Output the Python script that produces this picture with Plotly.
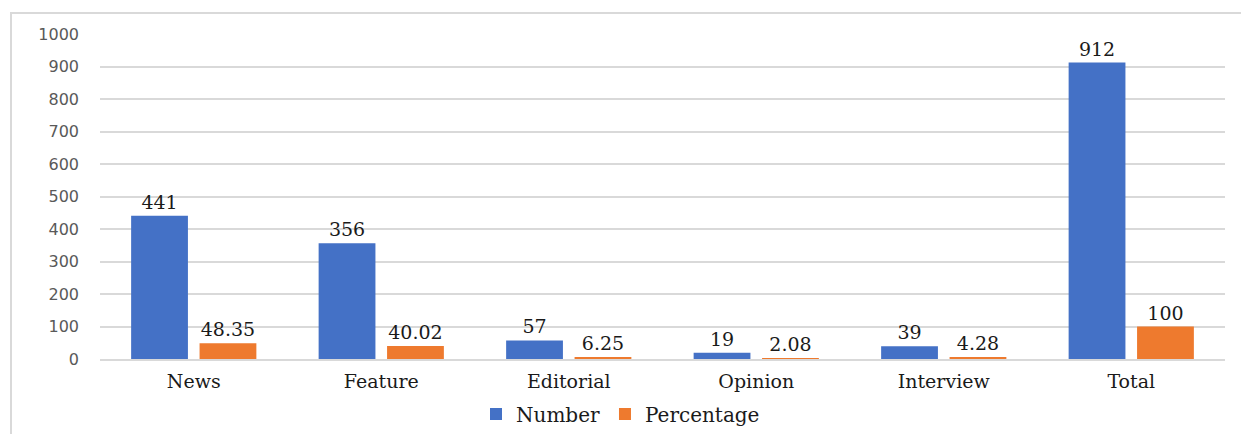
import plotly.graph_objects as go

categories = ["News", "Feature", "Editorial", "Opinion", "Interview", "Total"]
number = [441, 356, 57, 19, 39, 912]
percentage = [48.35, 40.02, 6.25, 2.08, 4.28, 100]
number_labels = ["441", "356", "57", "19", "39", "912"]
percentage_labels = ["48.35", "40.02", "6.25", "2.08", "4.28", "100"]
y_ticks = list(range(0, 1001, 100))

W, H = 1241, 434
L, R, T, B = 100, 16, 34, 75
plot_w = W - L - R
plot_h = H - T - B

serif = "DejaVu Serif, Liberation Serif, serif"
sans = "DejaVu Sans, Open Sans, sans-serif"

fig = go.Figure()
fig.add_trace(go.Bar(
    name="Number", x=categories, y=number,
    text=number_labels, textposition="outside",
    textfont=dict(family=serif, size=19, color="#1a1a1a"),
    marker=dict(color="#4471C6", line=dict(width=0)),
    cliponaxis=False,
))
fig.add_trace(go.Bar(
    name="Percentage", x=categories, y=percentage,
    text=percentage_labels, textposition="outside",
    textfont=dict(family=serif, size=19, color="#1a1a1a"),
    marker=dict(color="#EE7A2E", line=dict(width=0)),
    cliponaxis=False,
))


def px_x(px):
    return (px - L) / plot_w


def px_y(py):
    return (H - B - py) / plot_h


fig.update_layout(
    width=W, height=H,
    margin=dict(l=L, r=R, t=T, b=B, autoexpand=False),
    paper_bgcolor="white", plot_bgcolor="white",
    barmode="group", bargap=0.27, bargroupgap=0.17,
    showlegend=True,
    legend=dict(
        orientation="h", x=0.5, xanchor="center", xref="container",
        y=1 - 414 / H, yanchor="middle", yref="container",
        font=dict(family=serif, size=20, color="#1a1a1a"),
        itemwidth=30, traceorder="normal",
    ),
    xaxis=dict(
        showgrid=False, showline=True, linecolor="#d9d9d9", linewidth=1.5,
        tickfont=dict(family=serif, size=19, color="#1a1a1a"),
        ticks="", ticklabelstandoff=4, automargin=False,
    ),
    yaxis=dict(
        range=[0, 1000], tickvals=y_ticks,
        showgrid=True, gridcolor="#d9d9d9", gridwidth=1.5,
        zeroline=False, showline=False,
        tickfont=dict(family=sans, size=16, color="#595959"),
        ticks="", ticklabelstandoff=20, automargin=False,
    ),
    shapes=[dict(
        type="rect", xref="paper", yref="paper",
        x0=px_x(11), x1=px_x(1250), y0=px_y(445), y1=px_y(13),
        line=dict(color="#d9d9d9", width=2), fillcolor="rgba(0,0,0,0)",
        layer="below",
    )],
)

fig.write_html("out.html")
